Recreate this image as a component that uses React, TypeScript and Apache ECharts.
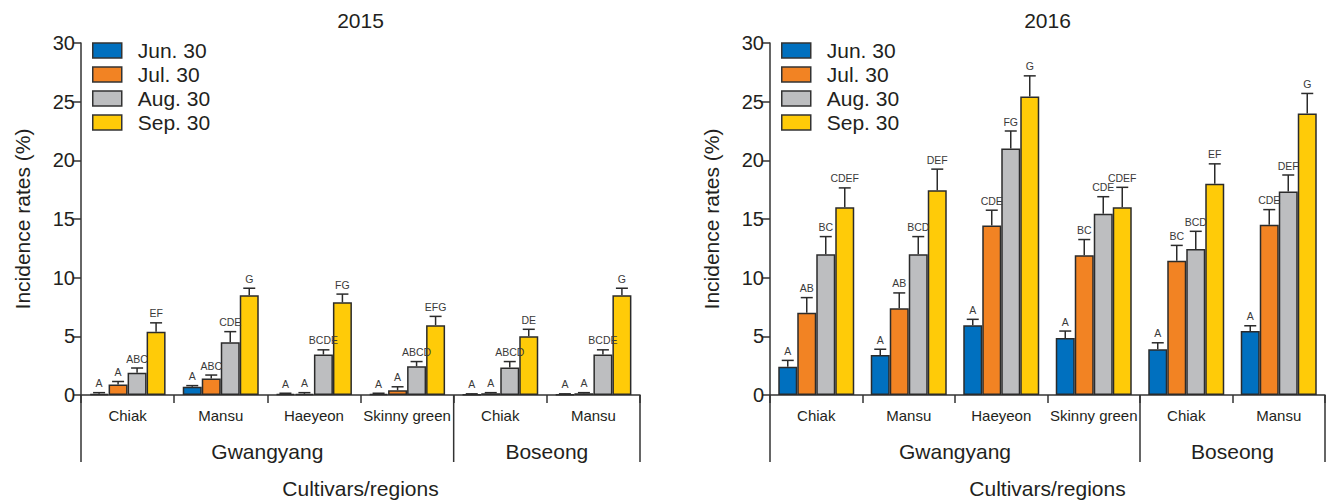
import React, { useEffect, useRef } from "react";
import * as echarts from "echarts";

const FONT = "'Liberation Sans', Arial, Helvetica, sans-serif";
const TXT = "#231F20";

const categories = ["Chiak", "Mansu", "Haeyeon", "Skinny green", "Chiak", "Mansu"];
const regions = ["Gwangyang", "Boseong"];
const regionSpans = [[0, 3], [4, 5]];
const seriesNames = ["Jun. 30", "Jul. 30", "Aug. 30", "Sep. 30"];
const colors = ["#0070BF", "#F28323", "#BDBEC0", "#FFCB08"];
const years = ["2015", "2016"];

// 2015 means and standard errors
const jun2015 = [0.1, 0.7, 0.1, 0.1, 0.05, 0.05];
const jun2015Se = [0.1, 0.1, 0.05, 0.05, 0.05, 0.05];
const jul2015 = [0.9, 1.4, 0.1, 0.4, 0.15, 0.15];
const jul2015Se = [0.25, 0.3, 0.1, 0.3, 0.05, 0.05];
const aug2015 = [1.9, 4.5, 3.45, 2.45, 2.35, 3.45];
const aug2015Se = [0.4, 0.9, 0.4, 0.4, 0.5, 0.4];
const sep2015 = [5.4, 8.5, 7.9, 5.95, 5.0, 8.5];
const sep2015Se = [0.75, 0.6, 0.7, 0.75, 0.6, 0.6];

// 2016 means and standard errors
const jun2016 = [2.4, 3.4, 5.95, 4.85, 3.9, 5.45];
const jun2016Se = [0.55, 0.5, 0.5, 0.6, 0.55, 0.45];
const jul2016 = [7.0, 7.4, 14.45, 11.9, 11.45, 14.5];
const jul2016Se = [1.3, 1.3, 1.3, 1.35, 1.3, 1.3];
const aug2016 = [12.0, 12.0, 21.0, 15.45, 12.45, 17.35];
const aug2016Se = [1.5, 1.5, 1.5, 1.45, 1.5, 1.4];
const sep2016 = [16.0, 17.45, 25.45, 16.0, 18.0, 24.0];
const sep2016Se = [1.65, 1.8, 1.75, 1.7, 1.7, 1.7];

// significance letters
const jun2015Let = ["A", "A", "A", "A", "A", "A"];
const jul2015Let = ["A", "ABC", "A", "A", "A", "A"];
const aug2015Let = ["ABC", "CDE", "BCDE", "ABCD", "ABCD", "BCDE"];
const sep2015Let = ["EF", "G", "FG", "EFG", "DE", "G"];
const jun2016Let = ["A", "A", "A", "A", "A", "A"];
const jul2016Let = ["AB", "AB", "CDE", "BC", "BC", "CDE"];
const aug2016Let = ["BC", "BCD", "FG", "CDE", "BCD", "DEF"];
const sep2016Let = ["CDEF", "DEF", "G", "CDEF", "EF", "G"];

const means = [
  [jun2015, jul2015, aug2015, sep2015],
  [jun2016, jul2016, aug2016, sep2016],
];
const ses = [
  [jun2015Se, jul2015Se, aug2015Se, sep2015Se],
  [jun2016Se, jul2016Se, aug2016Se, sep2016Se],
];
const letters = [
  [jun2015Let, jul2015Let, aug2015Let, sep2015Let],
  [jun2016Let, jul2016Let, aug2016Let, sep2016Let],
];

const BAR_W = 19;

function buildOption() {
  const grids = [
    { left: 81, top: 43, width: 559, height: 352, outerBoundsMode: "none", containLabel: false },
    { left: 770, top: 43, width: 555, height: 352, outerBoundsMode: "none", containLabel: false },
  ];
  const xAxes: any[] = [];
  const yAxes: any[] = [];
  const series: any[] = [];
  const titles: any[] = [];
  const legends: any[] = [];

  grids.forEach((g, gi) => {
    titles.push({
      text: years[gi],
      left: g.left + g.width / 2,
      top: 10,
      padding: 0,
      textAlign: "center",
      textStyle: { fontFamily: FONT, fontSize: 21, fontWeight: "normal", color: TXT },
    });
    legends.push({
      data: seriesNames,
      orient: "vertical",
      left: g.left + 11,
      top: 40,
      padding: 0,
      icon: "rect",
      itemWidth: 29,
      itemHeight: 15,
      itemGap: 3,
      itemStyle: { borderColor: "#333", borderWidth: 1.5 },
      textStyle: { fontFamily: FONT, fontSize: 21, color: TXT, lineHeight: 21, padding: [0, 0, 0, 11] },
      selectedMode: false,
    });
    xAxes.push({
      type: "category",
      gridIndex: gi,
      data: categories,
      name: "Cultivars/regions",
      nameLocation: "middle",
      nameGap: 83,
      nameTextStyle: { fontFamily: FONT, fontSize: 21, color: TXT, lineHeight: 21 },
      axisLine: { lineStyle: { color: "#333", width: 1.5 } },
      axisTick: { show: true, interval: 0, length: 8, lineStyle: { color: "#333", width: 1.5 } },
      axisLabel: { interval: 0, margin: 13, fontFamily: FONT, fontSize: 15, color: TXT },
    });
    yAxes.push({
      type: "value",
      gridIndex: gi,
      min: 0,
      max: 30,
      interval: 5,
      name: "Incidence rates (%)",
      nameLocation: "middle",
      nameRotate: 90,
      nameGap: 48,
      nameTextStyle: { fontFamily: FONT, fontSize: 21, color: TXT },
      axisLine: { show: true, lineStyle: { color: "#333", width: 1.5 } },
      axisTick: { show: true, length: 8, lineStyle: { color: "#333", width: 1.5 } },
      axisLabel: { margin: 6, fontFamily: FONT, fontSize: 20, color: TXT },
      splitLine: { show: false },
    });

    seriesNames.forEach((name, k) => {
      series.push({
        type: "bar",
        name,
        xAxisIndex: gi,
        yAxisIndex: gi,
        data: means[gi][k],
        barWidth: BAR_W,
        barGap: "0%",
        itemStyle: { color: colors[k], borderColor: "#2B2B2B", borderWidth: 1.5 },
        z: 2,
      });
    });

    seriesNames.forEach((name, k) => {
      const offset = (k - 1.5) * BAR_W;
      const lets = letters[gi][k];
      series.push({
        type: "custom",
        name: "err-" + name,
        xAxisIndex: gi,
        yAxisIndex: gi,
        z: 3,
        clip: false,
        data: means[gi][k].map((v, i) => [i, v, ses[gi][k][i]]),
        renderItem: (params: any, api: any) => {
          const idx = api.value(0);
          const v = api.value(1);
          const e = api.value(2);
          const base = api.coord([idx, v]);
          const top = api.coord([idx, v + e]);
          const x = base[0] + offset;
          const ls = { stroke: "#2B2B2B", lineWidth: 1.5 };
          return {
            type: "group",
            children: [
              { type: "line", shape: { x1: x, y1: base[1], x2: x, y2: top[1] }, style: ls },
              { type: "line", shape: { x1: x - 6, y1: top[1], x2: x + 6, y2: top[1] }, style: ls },
              {
                type: "text",
                x,
                y: top[1] - 4,
                style: {
                  text: lets[params.dataIndex],
                  textAlign: "center",
                  textVerticalAlign: "bottom",
                  fontFamily: FONT,
                  fontSize: 10.5,
                  fill: "#3A3A3A",
                },
              },
            ],
          };
        },
      });
    });

    series.push({
      type: "custom",
      name: "regions",
      xAxisIndex: gi,
      yAxisIndex: gi,
      clip: false,
      silent: true,
      data: regionSpans,
      renderItem: (params: any, api: any) => {
        const s = api.value(0);
        const e = api.value(1);
        const bw = api.size([1, 0])[0];
        const p0 = api.coord([s, 0]);
        const p1 = api.coord([e, 0]);
        const xL = p0[0] - bw / 2;
        const xR = p1[0] + bw / 2;
        const y0 = p0[1];
        const ls = { stroke: "#333", lineWidth: 1.5 };
        const children: any[] = [
          { type: "line", shape: { x1: xR, y1: y0, x2: xR, y2: y0 + 67 }, style: ls },
          {
            type: "text",
            x: (xL + xR) / 2,
            y: y0 + 56,
            style: {
              text: regions[params.dataIndex],
              textAlign: "center",
              textVerticalAlign: "middle",
              fontFamily: FONT,
              fontSize: 21,
              fill: TXT,
            },
          },
        ];
        if (params.dataIndex === 0) {
          children.push({ type: "line", shape: { x1: xL, y1: y0, x2: xL, y2: y0 + 67 }, style: ls });
        }
        return { type: "group", children };
      },
    });
  });

  return {
    animation: false,
    backgroundColor: "#fff",
    title: titles,
    legend: legends,
    grid: grids,
    xAxis: xAxes,
    yAxis: yAxes,
    series,
  };
}

export default function App() {
  const ref = useRef<HTMLDivElement>(null);
  useEffect(() => {
    if (!ref.current) return;
    const chart = echarts.init(ref.current, undefined, { renderer: "svg" });
    chart.setOption(buildOption() as any);
    return () => chart.dispose();
  }, []);
  return (
    <div
      ref={ref}
      style={{ position: "fixed", left: 0, top: 0, width: 1326, height: 503, background: "#fff" }}
    />
  );
}
